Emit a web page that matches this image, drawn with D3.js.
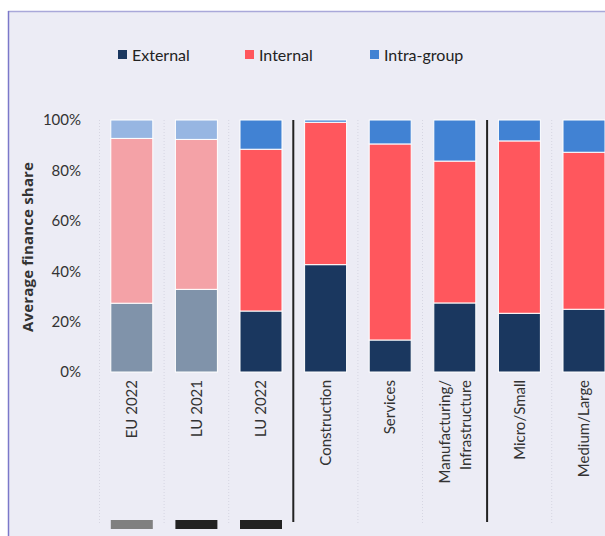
<!DOCTYPE html>
<html><head><meta charset="utf-8">
<script src="https://cdn.jsdelivr.net/npm/d3@7/dist/d3.min.js"></script>
<style>body{margin:0;background:#fff;}svg{display:block;}</style>
</head><body>
<svg id="c" width="605" height="536"></svg>
<script>
const categories = ["EU 2022","LU 2021","LU 2022","Construction","Services","Manufacturing/\nInfrastructure","Micro/Small","Medium/Large"];
const external = [27.3, 32.8, 24.2, 42.6, 12.7, 27.4, 23.3, 24.9];
const internal = [65.4, 59.5, 64.2, 56.5, 77.8, 56.3, 68.4, 62.3];
const intraGroup = [7.3, 7.7, 11.6, 0.9, 9.5, 16.3, 8.3, 12.8];
const seriesNames = ["External","Internal","Intra-group"];
const yTicks = [0,20,40,60,80,100];
const faded = ["EU 2022","LU 2021"];
const markers = [{cat:"EU 2022",color:"#808080"},{cat:"LU 2021",color:"#222222"},{cat:"LU 2022",color:"#222222"}];
const separators = ["Construction","Micro/Small"];

const colors = ["#1a375f","#ff575d","#4182d3"];
const fadedColors = ["#8093aa","#f4a2a7","#97b6e2"];

const svg = d3.select("#c");
svg.append("rect").attr("x",8).attr("y",11).attr("width",597).attr("height",525).attr("fill","#ececf5");
svg.append("line").attr("x1",8).attr("x2",605).attr("y1",11.5).attr("y2",11.5).attr("stroke","#a9a8d9").attr("stroke-width",1.5);
svg.append("line").attr("x1",8.5).attr("x2",8.5).attr("y1",11).attr("y2",536).attr("stroke","#7b78c9").attr("stroke-width",1.5);

const x = d3.scaleBand().domain(categories).range([99.5, 616.3]).paddingInner(0.35).paddingOuter(0.175);
const y = d3.scaleLinear().domain([0,100]).range([372,120]);

// dotted gridlines between bands
categories.forEach((c,i)=>{
  const gx = x(c) - x.step()*x.paddingInner()/2;
  if (separators.includes(c)) return;
  svg.append("line").attr("x1",gx).attr("x2",gx).attr("y1",120).attr("y2",524)
    .attr("stroke","#d6d6e2").attr("stroke-width",1).attr("stroke-dasharray","1,2");
});

const data = categories.map((c,i)=>({cat:c, External:external[i], Internal:internal[i], "Intra-group":intraGroup[i]}));
const stack = d3.stack().keys(seriesNames)(data);
stack.forEach((layer,si)=>{
  svg.append("g").selectAll("rect").data(layer).join("rect")
    .attr("x",d=>x(d.data.cat)).attr("width",x.bandwidth())
    .attr("y",d=>y(d[1])).attr("height",d=>y(d[0])-y(d[1]))
    .attr("fill",d=>faded.includes(d.data.cat)?fadedColors[si]:colors[si])
    .attr("stroke","#ffffff").attr("stroke-width",1);
});

// separators
separators.forEach(c=>{
  const sx = x(c) - x.step()*x.paddingInner()/2;
  svg.append("line").attr("x1",sx).attr("x2",sx).attr("y1",120).attr("y2",522)
    .attr("stroke","#222").attr("stroke-width",2);
});

// markers
markers.forEach(m=>{
  svg.append("rect").attr("x",x(m.cat)).attr("width",x.bandwidth()).attr("y",520).attr("height",9).attr("fill",m.color);
});

// y axis labels
const yAxis = d3.axisLeft(y).tickValues(yTicks).tickFormat(d=>d+"%").tickSize(0).tickPadding(0);
const ya = svg.append("g").attr("transform","translate(81,0)").call(yAxis);
ya.select(".domain").remove();
ya.selectAll("text").attr("font-family","Lato, 'Open Sans', sans-serif").attr("font-size",15).attr("fill","#333");

// x axis labels
const xAxis = d3.axisBottom(x).tickSize(0).tickPadding(0);
const xa = svg.append("g").attr("transform","translate(0,380)").call(xAxis);
xa.select(".domain").remove();
xa.selectAll("text").each(function(d){
  const t = d3.select(this);
  const lines = d.split("\n");
  t.text(null).attr("transform","rotate(-90)").attr("text-anchor","end").attr("x",0).attr("y",0).attr("dy",null)
   .attr("font-family","Lato, 'Open Sans', sans-serif").attr("font-size",15).attr("fill","#333");
  const n = lines.length;
  lines.forEach((l,i)=>{
    t.append("tspan").attr("x",0).attr("y",(i-(n-1)/2)*21).attr("dy","0.35em").text(l);
  });
});

// y title
svg.append("text").attr("transform","translate(33,247) rotate(-90)").attr("text-anchor","middle")
  .attr("font-family","'Open Sans', sans-serif").attr("font-weight","bold").attr("font-size",15).attr("fill","#333")
  .attr("textLength",170).attr("lengthAdjust","spacing")
  .text("Average finance share");

// legend
const legX = [118,245,370];
seriesNames.forEach((s,i)=>{
  svg.append("rect").attr("x",legX[i]).attr("y",50).attr("width",9).attr("height",9).attr("fill",colors[i]);
  svg.append("text").attr("x",legX[i]+14).attr("y",61).attr("font-family","Lato, 'Open Sans', sans-serif")
    .attr("font-size",16).attr("fill","#222").text(s);
});
</script>
</body></html>
